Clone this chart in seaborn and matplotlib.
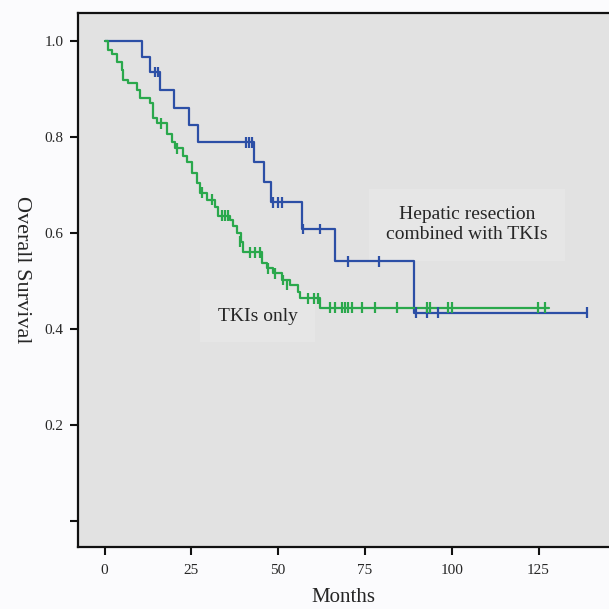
import numpy as np
import pandas as pd
import matplotlib
matplotlib.use("Agg")
import matplotlib.pyplot as plt
import seaborn as sns

# step curves (months, survival after the step)
resect_time = [0, 10.9, 13.1, 16.0, 20.0, 24.3, 27.0, 43.0, 46.0, 48.0, 57.0, 66.4, 89.0, 139.0]
resect_surv = [1.0, 0.967, 0.935, 0.898, 0.861, 0.825, 0.789, 0.747, 0.706, 0.664, 0.608, 0.541, 0.434, 0.434]
resect_cens_t = [14.6, 15.5, 40.7, 41.7, 42.6, 48.6, 50.1, 51.0, 57.3, 62.0, 70.0, 79.0, 89.8, 93.0, 96.0, 139.0]
resect_cens_s = [0.935, 0.935, 0.789, 0.789, 0.789, 0.664, 0.664, 0.664, 0.608, 0.608, 0.541, 0.541, 0.434, 0.434, 0.434, 0.434]

tki_time = [0, 1.1, 2.1, 3.5, 4.9, 5.4, 6.9, 9.3, 10.2, 13.1, 14.1, 15.2, 18.0, 19.5, 20.3,
            22.5, 23.7, 25.1, 26.6, 27.6, 29.4, 31.8, 32.8, 36.1, 37.1, 38.1, 39.3, 40.0,
            45.3, 46.7, 48.6, 51.0, 53.4, 55.8, 56.3, 62.1, 128.0]
tki_surv = [1.0, 0.981, 0.972, 0.957, 0.940, 0.919, 0.912, 0.898, 0.881, 0.870, 0.839, 0.828, 0.806, 0.790, 0.776,
            0.760, 0.748, 0.724, 0.703, 0.684, 0.669, 0.655, 0.636, 0.627, 0.615, 0.599, 0.582, 0.560,
            0.537, 0.526, 0.516, 0.502, 0.492, 0.478, 0.464, 0.444, 0.444]
tki_cens_t = [16.3, 20.8, 28.0, 31.0, 33.7, 34.7, 35.7, 39.0, 41.9, 43.3, 44.8, 47.2, 49.0, 51.5, 52.5,
              58.7, 60.3, 61.6, 64.9, 66.4, 68.3, 69.3, 70.2, 71.2, 74.1, 77.9, 84.2, 92.8, 93.7,
              99.0, 100.0, 124.9, 126.9]
tki_cens_s = [0.828, 0.776, 0.684, 0.669, 0.636, 0.636, 0.636, 0.582, 0.560, 0.560, 0.560, 0.526, 0.516, 0.502, 0.492,
              0.464, 0.464, 0.464] + [0.444] * 15

blue = "#2c4fa6"
green = "#2aa84c"

sns.set_style("ticks")
plt.rcParams["font.family"] = ["Liberation Serif", "DejaVu Serif"]

fig = plt.figure(figsize=(6.09, 6.09), dpi=100, facecolor="#fbfbfd")
ax = fig.add_axes([77.5 / 609, 1 - 547 / 609, 1 - 77.5 / 609, (547 - 13) / 609])
ax.set_facecolor("#e2e2e2")

curves = pd.concat([
    pd.DataFrame({"t": resect_time, "s": resect_surv, "g": "resect"}),
    pd.DataFrame({"t": tki_time, "s": tki_surv, "g": "tki"}),
])
cens = pd.concat([
    pd.DataFrame({"t": resect_cens_t, "s": resect_cens_s, "g": "resect"}),
    pd.DataFrame({"t": tki_cens_t, "s": tki_cens_s, "g": "tki"}),
])
pal = {"resect": blue, "tki": green}

sns.lineplot(data=curves, x="t", y="s", hue="g", palette=pal, estimator=None,
             drawstyle="steps-post", linewidth=1.6, legend=False, ax=ax, zorder=3)
sns.scatterplot(data=cens, x="t", y="s", hue="g", palette=pal, marker="|",
                s=60, linewidth=1.6, legend=False, ax=ax, zorder=4)

ax.set_xlim(-7.78, 145.3)
ax.set_ylim(-0.054, 1.058)
ax.set_xticks([0, 25, 50, 75, 100, 125])
ax.set_yticks([0, 0.2, 0.4, 0.6, 0.8, 1.0])
ax.set_yticklabels(["", "0.2", "0.4", "0.6", "0.8", "1.0"])
ax.tick_params(axis="both", direction="out", length=6, width=1.5, labelsize=11,
               color="#111111", bottom=True, left=True)
ax.tick_params(axis="x", pad=6)
ax.tick_params(axis="y", pad=4)
for side in ["left", "bottom", "top"]:
    ax.spines[side].set_visible(True)
    ax.spines[side].set_linewidth(1.6)
    ax.spines[side].set_color("#111111")
ax.spines["right"].set_visible(False)

ax.set_xlabel("Months", fontsize=15, labelpad=8)
ax.set_ylabel("Overall Survival", fontsize=16, rotation=270, va="center")
ax.yaxis.set_label_coords(-0.105, 0.52)

ax.text(104.4, 0.617, "Hepatic resection\ncombined with TKIs", fontsize=14, ha="center", va="center",
        linespacing=1.25, zorder=1, bbox=dict(boxstyle="square,pad=0.9", fc="#e6e6e6", ec="none"))
ax.text(44.1, 0.426, "TKIs only", fontsize=14, ha="center", va="center", zorder=1,
        bbox=dict(boxstyle="square,pad=0.9", fc="#e6e6e6", ec="none"))

fig.savefig("out.png", dpi=100, facecolor=fig.get_facecolor())
